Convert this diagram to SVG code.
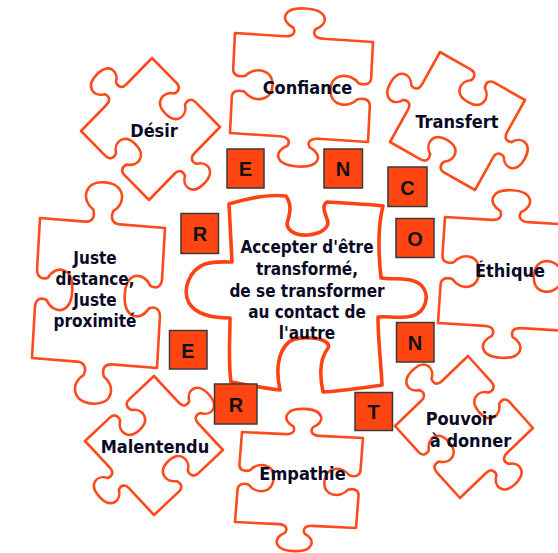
<svg xmlns="http://www.w3.org/2000/svg" xmlns:xlink="http://www.w3.org/1999/xlink" width="558" height="553" viewBox="0 0 558 553">
<style>
.pc{fill:#fff;stroke:#FF4A1C;stroke-width:2.6;vector-effect:non-scaling-stroke;stroke-linejoin:round}
.core{fill:#fff;stroke:#FF4214;stroke-width:3.6;stroke-linejoin:round}
.lbl{font-family:"DejaVu Sans Condensed","DejaVu Sans",sans-serif;font-stretch:condensed;font-weight:bold;font-size:18px;fill:#0a0a26;text-anchor:middle}
.sm{font-size:17px}
.box{fill:#FF4511;stroke:#3a3a3a;stroke-width:1.5}
.let{font-family:"Liberation Sans",Arial,sans-serif;font-weight:bold;font-size:20px;fill:#111;text-anchor:middle}
</style>
<defs>
<path id="pieceA" class="pc" d="M-50,-50 L-14,-50 C-8,-50 -6,-54 -8,-59 C-18,-65 -17,-79 0,-79 C17,-79 18,-65 8,-59 C6,-54 8,-50 14,-50 L50,-50 L50,-14 C50,-8 46,-6 41,-8 C35,-18 21,-17 21,0 C21,17 35,18 41,8 C46,6 50,8 50,14 L50,50 L14,50 C8,50 6,54 8,59 C18,65 17,79 0,79 C-17,79 -18,65 -8,59 C-6,54 -8,50 -14,50 L-50,50 L-50,14 C-50,8 -46,6 -41,8 C-35,18 -21,17 -21,0 C-21,-17 -35,-18 -41,-8 C-46,-6 -50,-8 -50,-14 Z"/>
<path id="pieceB" class="pc" d="M-50,-50 L-14,-50 C-8,-50 -6,-46 -8,-41 C-18,-35 -17,-21 0,-21 C17,-21 18,-35 8,-41 C6,-46 8,-50 14,-50 L50,-50 L50,-14 C50,-8 54,-6 59,-8 C65,-18 79,-17 79,0 C79,17 65,18 59,8 C54,6 50,8 50,14 L50,50 L14,50 C8,50 6,46 8,41 C18,35 17,21 0,21 C-17,21 -18,35 -8,41 C-6,46 -8,50 -14,50 L-50,50 L-50,14 C-50,8 -54,6 -59,8 C-65,18 -79,17 -79,0 C-79,-17 -65,-18 -59,-8 C-54,-6 -50,-8 -50,-14 Z"/>
</defs>
<rect width="558" height="553" fill="#fff"/>

<g id="desir">
<use xlink:href="#pieceB" transform="matrix(0.68,0.69,-0.71,0.73,150.5,129)"/>
<text class="lbl" x="154" y="137">Désir</text>
</g>
<g id="confiance">
<use xlink:href="#pieceA" transform="matrix(1.38,0.09,-0.05,1.0,301.5,87.5)"/>
<text class="lbl" x="307.5" y="94">Confiance</text>
</g>
<g id="transfert">
<use xlink:href="#pieceB" transform="matrix(0.85,0.48,-0.5,0.9,457.5,121)"/>
<text class="lbl" x="457" y="128">Transfert</text>
</g>
<g id="ethique">
<use xlink:href="#pieceA" transform="matrix(1.3,0.08,-0.07,1.06,506.5,274)"/>
<text class="lbl" x="510" y="277">Éthique</text>
</g>
<g id="juste">
<use xlink:href="#pieceA" transform="matrix(1.25,0.10,-0.08,1.4,98.5,293)"/>
<text class="lbl sm" x="95" y="264">Juste</text>
<text class="lbl sm" x="95" y="285">distance,</text>
<text class="lbl sm" x="95" y="306">Juste</text>
<text class="lbl sm" x="95" y="327">proximité</text>
</g>
<g id="malentendu">
<use xlink:href="#pieceA" transform="matrix(0.69,0.74,-0.69,0.65,154,445.5)"/>
<text class="lbl" x="155" y="453">Malentendu</text>
</g>
<g id="empathie">
<use xlink:href="#pieceA" transform="matrix(1.21,0.06,-0.07,0.9,299,480)"/>
<text class="lbl" x="302.5" y="480">Empathie</text>
</g>
<g id="pouvoir">
<use xlink:href="#pieceB" transform="matrix(0.65,0.72,-0.73,0.70,464,427)"/>
<text class="lbl" x="460.5" y="425">Pouvoir</text>
<text class="lbl" x="470.5" y="447">à donner</text>
</g>

<g id="centre">
<path class="core" d="M229,204 C250,198 268,194 286,196 C292,205 290,213 288,220 C284,230 296,236 308,235 C320,234 331,228 327,219 C324,211 322,205 327,202 C345,203 365,204 383,206 C378,225 378,250 381,278 C395,280 412,276 422,286 C430,296 426,312 412,316 C400,319 388,316 378,317 C378,340 381,362 382,385 C362,388 342,391 323,392 C320,378 319,360 328,348 C333,338 300,334 289,342 C277,352 276,372 280,390 C263,388 247,385 231,382 C228,362 230,340 230,318 C215,318 197,316 189,303 C182,290 189,270 205,264 C215,261 225,262 232,262 C231,243 230,223 229,204 Z"/>
<text class="lbl sm" x="307" y="253">Accepter d'être</text>
<text class="lbl sm" x="307" y="274.5">transformé,</text>
<text class="lbl sm" x="307" y="296.5">de se transformer</text>
<text class="lbl sm" x="307" y="318">au contact de</text>
<text class="lbl sm" x="307" y="339">l'autre</text>
</g>

<g id="letters">
<g id="L1"><rect class="box" x="227" y="149" width="37" height="39"/><text class="let" x="245.5" y="176">E</text></g>
<g id="L2"><rect class="box" x="324" y="149" width="38.5" height="39"/><text class="let" x="343" y="176">N</text></g>
<g id="L3"><rect class="box" x="388" y="167" width="39" height="39.5"/><text class="let" x="407.5" y="194.5">C</text></g>
<g id="L4"><rect class="box" x="396" y="218.5" width="38" height="39"/><text class="let" x="415" y="245.5">O</text></g>
<g id="L5"><rect class="box" x="396.5" y="322.5" width="37.5" height="39.5"/><text class="let" x="415" y="349.5">N</text></g>
<g id="L6"><rect class="box" x="355" y="392.5" width="37.5" height="38"/><text class="let" x="373.5" y="419">T</text></g>
<g id="L7"><rect class="box" x="214.5" y="384" width="42.5" height="40"/><text class="let" x="236" y="411.5">R</text></g>
<g id="L8"><rect class="box" x="169.5" y="330.5" width="37.5" height="38.5"/><text class="let" x="188" y="357.5">E</text></g>
<g id="L9"><rect class="box" x="181" y="213.5" width="37.5" height="40"/><text class="let" x="200" y="241">R</text></g>
</g>
</svg>
